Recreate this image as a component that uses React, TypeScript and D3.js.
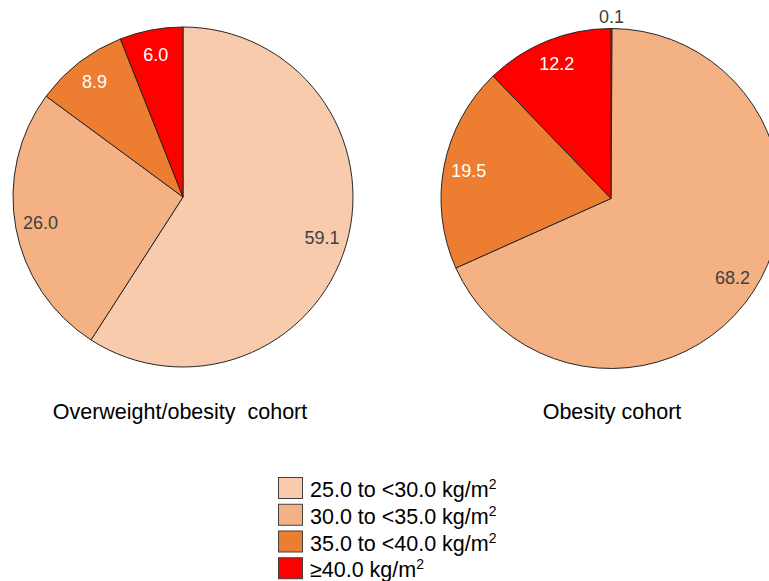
import React from "react";
import * as d3 from "d3";

const categories = ["25.0 to <30.0 kg/m", "30.0 to <35.0 kg/m", "35.0 to <40.0 kg/m", "≥40.0 kg/m"];
const colors = ["#F8CBAD", "#F4B183", "#ED7D31", "#FF0000"];
const labelColors = ["#404040", "#404040", "#FFFFFF", "#FFFFFF"];
const overweightValues = [59.1, 26.0, 8.9, 6.0];
const obesityValues = [0.1, 68.2, 19.5, 12.2];
const cohortTitles = ["Overweight/obesity\u00A0\u00A0cohort", "Obesity cohort"];

const W = 769;
const H = 581;
const R = 170;
const FONT = "'Liberation Sans', Arial, sans-serif";

type PieProps = { cx: number; cy: number; values: number[]; title: string; titleX: number };

function Pie({ cx, cy, values, title, titleX }: PieProps) {
  const pie = d3.pie<number>().sort(null).value((d) => d);
  const arcs = pie(values);
  const arc = d3.arc<d3.PieArcDatum<number>>().innerRadius(0).outerRadius(R);
  const labelArc = d3.arc<d3.PieArcDatum<number>>().innerRadius(145).outerRadius(145);
  const outerArc = d3.arc<d3.PieArcDatum<number>>().innerRadius(182).outerRadius(182);
  return (
    <g>
      <g transform={`translate(${cx},${cy})`}>
        {arcs.map((a, i) => (
          <path key={i} d={arc(a) || ""} fill={colors[i]} stroke="#262626" strokeWidth={1} />
        ))}
        {arcs.map((a, i) => {
          const small = a.value < 1;
          const [x, y] = small ? outerArc.centroid(a) : labelArc.centroid(a);
          return (
            <text
              key={"l" + i}
              x={x}
              y={y}
              textAnchor="middle"
              dominantBaseline="central"
              fontFamily={FONT}
              fontSize={18}
              fill={small ? "#404040" : labelColors[i]}
            >
              {a.value.toFixed(1)}
            </text>
          );
        })}
      </g>
      <text x={titleX} y={419} textAnchor="middle" fontFamily={FONT} fontSize={21.5} fill="#000">
        {title}
      </text>
    </g>
  );
}

export default function App() {
  const legendY = d3.scaleBand<number>().domain(d3.range(categories.length)).range([474, 581]).padding(0);
  return (
    <svg
      width={W}
      height={H}
      viewBox={`0 0 ${W} ${H}`}
      style={{ position: "absolute", left: 0, top: 0, background: "#fff" }}
    >
      <rect x={0} y={0} width={W} height={H} fill="#fff" />
      <Pie cx={183} cy={197} values={overweightValues} title={cohortTitles[0]} titleX={180} />
      <Pie cx={611} cy={198.5} values={obesityValues} title={cohortTitles[1]} titleX={612} />
      <g>
        {categories.map((c, i) => {
          const y0 = legendY(i) as number;
          return (
            <g key={c}>
              <rect x={278.5} y={y0 + 3.5} width={24} height={21} fill={colors[i]} stroke="#404040" strokeWidth={1} />
              <text x={310} y={y0 + 23} fontFamily={FONT} fontSize={21.5} fill="#000">
                {c}
                <tspan fontSize={14} dy={-8}>2</tspan>
              </text>
            </g>
          );
        })}
      </g>
    </svg>
  );
}
